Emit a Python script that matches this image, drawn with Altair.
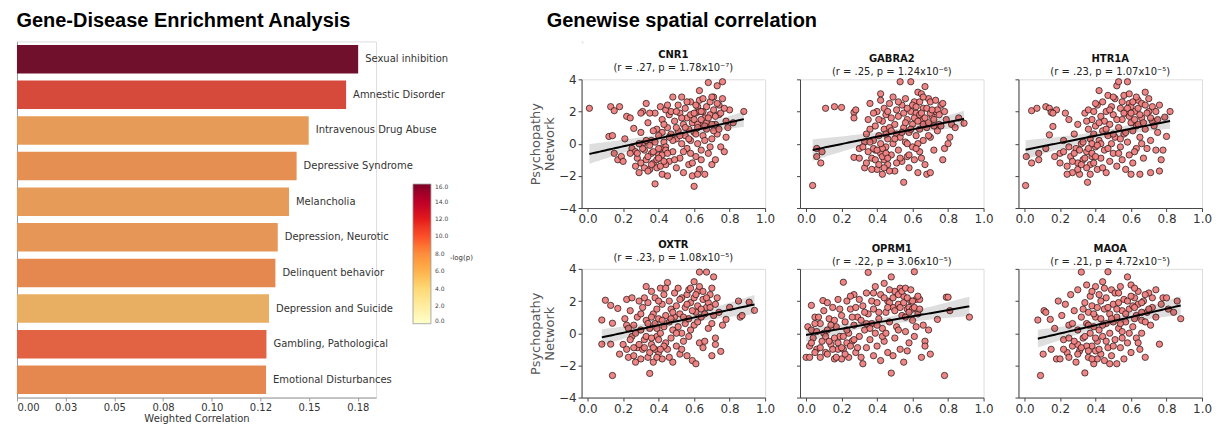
import json
import altair as alt
import numpy as np
import pandas as pd

# ---------------- Left panel data ----------------
DISEASES = ["Sexual inhibition", "Amnestic Disorder", "Intravenous Drug Abuse",
            "Depressive Syndrome", "Melancholia", "Depression, Neurotic",
            "Delinquent behavior", "Depression and Suicide",
            "Gambling, Pathological", "Emotional Disturbances"]
WEIGHTED_CORR = [0.1752, 0.1690, 0.1498, 0.1436, 0.1397, 0.1339, 0.1327, 0.1294, 0.1281, 0.1279]
NEG_LOG_P = [16.0, 11.0, 7.3, 8.1, 7.3, 7.7, 8.4, 6.1, 9.9, 8.4]
X_TICKS = [0, 0.025, 0.05, 0.075, 0.1, 0.125, 0.15, 0.175]
X_TICK_LABELS = ["0.00", "0.03", "0.05", "0.08", "0.10", "0.12", "0.15", "0.18"]
CBAR_TICKS = [0, 2, 4, 6, 8, 10, 12, 14, 16]
CBAR_TITLE = ["-log(p)"]
YLORRD = ["#ffffcc", "#ffeda0", "#fed976", "#feb24c", "#fd8d3c", "#fc4e2a", "#e31a1c", "#bd0026", "#800026"]
YLORRD_DESAT = ["#f9f9d2", "#f3e6ac", "#edd187", "#e8af62", "#e59154", "#e25f44", "#ca3335", "#a51834", "#70102d"]

# ---------------- Right panel data ----------------
GENES = ["CNR1", "GABRA2", "HTR1A", "OXTR", "OPRM1", "MAOA"]
R_TEXT = [".27", ".25", ".23", ".23", ".22", ".21"]
P_TEXT = ["1.78x10⁻⁷", "1.24x10⁻⁶", "1.07x10⁻⁵", "1.08x10⁻⁵", "3.06x10⁻⁵", "4.72x10⁻⁵"]

CNR1 = [(0.01,2.2),(0.13,2.3),(0.15,2.05),(0.18,2.3),(0.12,0.45),(0.14,0.5),(0.15,-0.6),(0.17,-1.0),(0.19,-0.8),(0.21,0.3),
(0.22,1.7),(0.24,1.6),(0.25,-0.3),(0.26,0.95),(0.27,-1.4),(0.28,-0.9),(0.29,-1.8),(0.30,0.7),(0.31,2.0),(0.32,-0.4),
(0.33,2.5),(0.34,1.3),(0.35,-1.6),(0.36,0.2),(0.37,-1.2),(0.38,-2.5),(0.38,1.9),(0.39,0.9),(0.40,-0.7),(0.41,2.3),
(0.42,1.5),(0.42,-1.9),(0.43,0.1),(0.44,2.1),(0.44,-0.2),(0.45,1.0),(0.46,-1.1),(0.46,1.8),(0.47,0.6),(0.48,2.9),
(0.48,-0.5),(0.49,1.4),(0.50,0.3),(0.50,-1.5),(0.51,2.4),(0.51,0.8),(0.52,-0.9),(0.52,1.9),(0.53,0.0),(0.53,2.9),
(0.54,1.2),(0.54,-1.8),(0.55,0.5),(0.55,2.2),(0.56,-0.3),(0.56,1.6),(0.57,0.9),(0.57,-1.3),(0.58,2.6),(0.58,0.2),
(0.59,-2.0),(0.59,1.3),(0.60,-2.65),(0.60,0.7),(0.61,1.9),(0.61,-0.8),(0.62,2.3),(0.62,0.0),(0.63,3.3),(0.63,-1.6),
(0.64,1.1),(0.64,-0.4),(0.65,2.0),(0.65,0.5),(0.66,-1.9),(0.66,1.6),(0.67,0.9),(0.68,3.8),(0.68,-0.6),(0.69,1.8),
(0.70,0.3),(0.70,-1.3),(0.71,2.9),(0.72,1.2),(0.73,3.6),(0.73,0.6),(0.74,1.8),(0.75,-0.2),(0.76,3.85),(0.76,2.8),
(0.77,-0.5),(0.78,0.4),(0.79,1.0),(0.80,2.1),(0.82,1.3),(0.88,2.0),(0.45,-2.0),(0.50,1.0),(0.55,1.0),(0.47,2.0),
(0.58,-0.6),(0.42,0.7),(0.60,1.5),(0.35,1.9),(0.30,1.9),(0.27,-0.5),(0.40,0.5),(0.53,1.6),(0.48,0.2),(0.62,1.2),
(0.36,-0.6),(0.44,-1.3),(0.66,0.2),(0.20,-1.1),(0.24,-0.6),(0.39,-1.5),(0.43,1.2),(0.46,0.4),(0.49,-1.0),(0.52,0.5),
(0.56,2.6),(0.57,0.3),(0.59,-1.2),(0.61,0.6),(0.63,2.0),(0.64,-1.0),(0.67,1.3),(0.69,-0.2),(0.71,0.8),(0.54,-0.5),
(0.41,-0.3),(0.37,0.8),(0.33,-1.0),(0.31,0.0),(0.45,2.4),(0.50,2.0),(0.58,1.8),(0.62,-1.9),(0.72,-1.0),(0.74,2.4),
(0.28,-0.6),(0.30,-1.2),(0.31,-0.3),(0.32,-1.5),(0.33,0.2),(0.34,-0.8),(0.35,-0.1),(0.36,-1.3),(0.37,-0.5),(0.38,0.1),
(0.39,-1.0),(0.40,-0.3),(0.41,-1.4),(0.42,-0.7),(0.43,-1.1),(0.44,-0.4),(0.29,0.0),(0.34,-1.7),(0.40,-0.9),(0.45,-0.6),
(0.60,1.9),(0.61,2.4),(0.62,1.0),(0.63,2.7),(0.64,1.5),(0.65,2.8),(0.66,1.1),(0.67,2.3),(0.68,1.6),(0.69,2.6),
(0.70,1.2),(0.71,2.1),(0.72,1.7),(0.73,2.5),(0.74,0.9),(0.75,1.9),(0.77,2.2),(0.78,1.4),(0.64,2.0),(0.70,2.9)]

GABRA2 = [(0.037,-2.6),(0.06,-0.3),(0.06,-0.8),(0.083,-1.2),(0.09,-0.5),(0.11,2.2),(0.16,2.3),(0.20,2.25),(0.27,1.95),(0.28,2.1),
(0.27,1.6),(0.27,-0.85),(0.30,-0.3),(0.33,-1.5),(0.34,0.6),(0.35,1.5),(0.36,2.5),(0.37,-0.9),(0.38,0.2),(0.39,1.1),
(0.40,-1.6),(0.40,2.0),(0.41,0.5),(0.42,3.1),(0.42,2.7),(0.42,-0.6),(0.43,1.4),(0.43,-1.9),(0.44,0.9),(0.44,2.2),
(0.45,-0.2),(0.45,1.8),(0.46,0.3),(0.46,-1.3),(0.47,2.5),(0.47,1.0),(0.48,-0.7),(0.48,1.6),(0.49,0.0),(0.49,2.9),
(0.50,-1.7),(0.50,1.2),(0.51,0.6),(0.51,2.1),(0.52,-0.4),(0.52,1.7),(0.53,3.85),(0.53,0.4),(0.54,-1.1),(0.54,2.4),
(0.55,-2.4),(0.55,1.0),(0.56,0.1),(0.56,2.8),(0.57,-0.8),(0.57,1.5),(0.58,0.7),(0.58,-1.5),(0.59,3.85),(0.59,2.0),
(0.60,-0.2),(0.60,1.2),(0.61,2.6),(0.61,-1.0),(0.62,0.5),(0.62,1.9),(0.63,-1.8),(0.63,3.2),(0.64,0.9),(0.64,-0.5),
(0.65,3.1),(0.65,1.4),(0.66,0.2),(0.66,2.2),(0.67,3.55),(0.67,-1.3),(0.68,-1.9),(0.68,1.0),(0.69,2.8),(0.70,-1.8),
(0.70,0.4),(0.71,1.7),(0.72,-0.4),(0.73,2.0),(0.74,0.8),(0.75,1.2),(0.76,2.4),(0.77,-1.0),(0.77,2.5),(0.78,-0.3),
(0.79,1.5),(0.80,0.0),(0.81,0.4),(0.82,1.2),(0.84,1.0),(0.86,1.6),(0.89,1.27),(0.44,-1.0),(0.46,2.0),(0.50,0.3),
(0.53,-0.9),(0.55,1.9),(0.57,0.0),(0.59,0.9),(0.61,1.6),(0.63,0.0),(0.52,2.6),(0.48,0.8),(0.58,-0.7),(0.62,-0.3),
(0.39,-0.4),(0.41,1.5),(0.36,0.9),(0.66,1.2),(0.69,0.5),(0.72,1.1),(0.47,-1.7),(0.54,0.7),(0.60,2.4),(0.64,1.8),
(0.51,-1.2),(0.56,1.3),(0.45,0.6),(0.43,-0.3),(0.65,-0.9),(0.70,1.9),(0.74,2.1),(0.38,1.9),(0.33,0.1),(0.57,2.2),
(0.30,-0.9),(0.32,-0.2),(0.34,-1.2),(0.35,-0.5),(0.37,-1.6),(0.38,-0.3),(0.39,-1.0),(0.40,-0.4),(0.41,-1.3),(0.42,0.0),
(0.43,-0.8),(0.44,-1.5),(0.45,-0.6),(0.46,-0.9),(0.36,0.1),
(0.62,2.3),(0.63,1.4),(0.64,2.6),(0.65,1.9),(0.66,2.9),(0.67,1.6),(0.68,2.2),(0.69,1.3),(0.70,2.6),(0.71,2.1),
(0.72,1.5),(0.73,2.7),(0.75,1.8),(0.76,1.1),(0.78,2.0)]

HTR1A = [(0.006,-2.6),(0.01,-0.8),(0.04,-1.2),(0.04,2.05),(0.07,2.2),(0.08,-0.6),(0.08,-1.0),(0.12,2.3),(0.14,2.2),(0.15,1.95),
(0.18,2.1),(0.16,1.9),(0.16,1.07),(0.14,0.55),(0.12,-0.3),(0.17,-0.8),(0.20,-0.6),(0.22,0.2),(0.24,-1.4),(0.25,1.5),
(0.27,-1.8),(0.28,0.6),(0.29,-0.3),(0.30,1.2),(0.31,-1.9),(0.32,0.0),(0.33,-1.0),(0.34,1.9),(0.35,-0.5),(0.355,-2.4),
(0.36,0.9),(0.36,2.1),(0.37,-1.3),(0.37,0.3),(0.38,1.5),(0.38,-0.8),(0.39,2.0),(0.39,0.6),(0.40,-0.2),(0.40,1.1),
(0.41,-1.6),(0.41,2.4),(0.42,3.3),(0.42,0.2),(0.43,1.7),(0.43,-0.9),(0.44,0.8),(0.44,2.6),(0.45,-0.4),(0.45,1.4),
(0.46,-1.8),(0.46,2.0),(0.47,0.5),(0.47,3.0),(0.48,-1.1),(0.48,1.2),(0.49,2.3),(0.49,0.0),(0.50,-0.6),(0.50,1.8),
(0.51,2.8),(0.51,0.4),(0.52,3.6),(0.52,-1.4),(0.53,3.85),(0.53,1.0),(0.54,-0.2),(0.54,2.2),(0.55,1.5),(0.55,-1.0),
(0.56,0.6),(0.56,3.0),(0.57,-1.6),(0.57,1.9),(0.58,3.85),(0.58,0.1),(0.59,2.5),(0.59,-0.7),(0.60,1.3),(0.60,-1.9),
(0.61,0.8),(0.62,2.0),(0.63,-0.3),(0.63,1.1),(0.64,2.7),(0.65,-1.9),(0.65,0.4),(0.66,1.6),(0.67,-0.9),(0.68,3.2),
(0.68,0.9),(0.70,2.0),(0.71,-1.8),(0.71,0.2),(0.72,1.4),(0.74,-0.4),(0.75,0.7),(0.76,-1.7),(0.77,-1.0),(0.78,-0.4),
(0.79,1.65),(0.80,0.45),(0.82,2.0),(0.44,-1.5),(0.47,-0.3),(0.50,0.6),(0.53,-0.6),(0.56,1.9),(0.61,-1.2),(0.40,2.5),
(0.42,1.3),(0.48,2.1),(0.52,1.5),(0.57,0.7),(0.62,-0.5),(0.66,0.0),(0.38,0.0),(0.35,1.4),(0.46,0.9),(0.54,0.3),
(0.59,1.7),(0.64,1.2),(0.69,-0.3),(0.43,0.0),(0.50,2.9),(0.55,2.6),(0.60,2.3),(0.23,1.9),(0.26,-0.8),(0.30,-1.2),
(0.20,-1.2),(0.22,-0.5),(0.24,-1.9),(0.25,-0.2),(0.27,-1.1),(0.28,-0.6),(0.30,-1.6),(0.31,-0.4),(0.32,-1.3),(0.33,0.1),
(0.34,-0.9),(0.35,-1.5),(0.36,-0.3),(0.37,-1.9),(0.38,-0.6),(0.39,-1.2),(0.40,-0.8),(0.41,-0.1),
(0.58,2.2),(0.59,3.1),(0.60,1.9),(0.61,2.6),(0.62,1.5),(0.63,2.9),(0.64,2.2),(0.65,1.8),(0.66,2.5),(0.67,1.3),
(0.68,2.4),(0.69,1.9),(0.70,2.8),(0.71,1.6),(0.72,2.3),(0.73,1.1),(0.74,2.0),(0.75,1.5),(0.76,2.4)]

OXTR = [(0.08,0.82),(0.08,-0.68),(0.10,2.05),(0.13,1.73),(0.13,-0.68),(0.14,-2.63),(0.14,0.62),(0.17,1.54),(0.18,-1.3),(0.20,-0.7),
(0.21,0.9),(0.22,2.1),(0.23,-1.5),(0.24,1.4),(0.25,-0.2),(0.25,2.2),(0.26,0.5),(0.27,-1.8),(0.28,1.0),(0.28,-0.9),
(0.29,2.0),(0.30,0.2),(0.31,-1.0),(0.31,1.6),(0.32,-0.4),(0.33,2.9),(0.33,0.8),(0.34,-1.5),(0.34,1.9),(0.35,-2.5),
(0.35,0.3),(0.36,2.6),(0.36,-0.7),(0.37,1.2),(0.37,-1.8),(0.38,0.6),(0.38,2.2),(0.39,-0.2),(0.39,1.5),(0.40,-1.2),
(0.40,0.9),(0.41,2.8),(0.41,0.0),(0.42,1.8),(0.42,-1.6),(0.43,0.4),(0.43,2.4),(0.44,-0.6),(0.44,1.1),(0.45,3.15),
(0.45,-1.0),(0.46,0.7),(0.46,2.0),(0.47,-0.3),(0.47,1.5),(0.48,-1.8),(0.48,0.2),(0.49,2.5),(0.49,1.0),(0.50,-0.8),
(0.50,1.7),(0.51,0.4),(0.51,2.8),(0.52,-1.3),(0.52,1.2),(0.53,0.0),(0.53,2.2),(0.54,-0.5),(0.55,1.6),(0.55,0.6),
(0.56,-1.4),(0.56,2.4),(0.57,0.9),(0.57,-0.2),(0.58,1.9),(0.59,-1.7),(0.60,3.2),(0.60,0.5),(0.61,-1.9),(0.61,1.3),
(0.62,2.6),(0.63,3.8),(0.63,-0.6),(0.64,1.0),(0.65,2.1),(0.66,-0.5),(0.67,3.8),(0.67,1.6),(0.68,0.3),(0.69,2.4),
(0.70,-1.4),(0.71,3.5),(0.71,1.1),(0.72,-0.7),(0.72,-0.3),(0.73,2.2),(0.75,-1.13),(0.76,0.5),(0.78,0.86),(0.80,1.6),
(0.85,2.0),(0.86,1.0),(0.87,1.1),(0.91,1.93),(0.94,1.42),(0.30,1.2),(0.32,2.2),(0.36,1.0),(0.38,-1.0),(0.40,2.0),
(0.42,0.8),(0.44,2.8),(0.46,-1.5),(0.48,1.3),(0.50,0.0),(0.52,2.1),(0.54,1.0),(0.58,0.2),(0.62,0.7),(0.65,-0.9),
(0.39,0.3),(0.43,-0.8),(0.47,0.9),(0.53,-1.0),(0.57,2.7),(0.68,1.9),(0.70,0.6),(0.26,-0.9),(0.22,0.5),(0.34,0.6),
(0.22,-1.0),(0.24,-0.4),(0.26,-1.4),(0.27,0.0),(0.29,-0.7),(0.30,-1.6),(0.32,-0.9),(0.33,-0.2),(0.35,-1.2),(0.36,-0.3),
(0.37,-0.9),(0.39,-1.5),(0.40,-0.4),(0.41,-1.0),(0.23,0.3),
(0.56,1.8),(0.58,2.8),(0.59,1.4),(0.60,2.2),(0.62,1.7),(0.63,2.9),(0.64,1.5),(0.65,2.6),(0.66,1.2),(0.67,2.2),
(0.69,1.6),(0.70,2.8),(0.72,1.8),(0.74,1.3),(0.61,2.4)]

OPRM1 = [(0.00,-1.5),(0.02,-1.5),(0.02,-0.8),(0.03,1.73),(0.095,2.03),(0.05,1.0),(0.07,1.0),(0.01,0.4),(0.03,0.2),(0.04,-0.3),
(0.06,-1.0),(0.08,0.6),(0.09,-0.5),(0.10,1.4),(0.11,-1.2),(0.12,0.2),(0.13,0.9),(0.14,-0.7),(0.15,1.6),(0.16,-1.6),
(0.17,0.4),(0.18,2.1),(0.19,-0.2),(0.20,1.1),(0.21,3.17),(0.21,-1.0),(0.22,0.7),(0.23,2.0),(0.24,-1.5),(0.24,0.0),
(0.25,1.5),(0.26,-0.5),(0.27,2.4),(0.27,0.5),(0.28,-1.2),(0.29,1.0),(0.30,2.1),(0.30,-0.2),(0.31,0.8),(0.32,-1.9),
(0.32,1.7),(0.33,0.2),(0.34,2.5),(0.34,-0.9),(0.35,3.78),(0.35,1.2),(0.36,-0.4),(0.37,2.0),(0.37,0.6),(0.38,-1.4),
(0.38,1.5),(0.39,2.9),(0.39,0.0),(0.40,-0.8),(0.40,1.9),(0.41,0.9),(0.42,-1.7),(0.42,2.4),(0.43,0.3),(0.44,3.1),
(0.44,-0.5),(0.45,1.3),(0.46,2.0),(0.46,-1.2),(0.47,0.7),(0.48,3.5),(0.48,-2.48),(0.49,1.6),(0.50,-0.3),(0.50,2.6),
(0.51,0.4),(0.52,1.8),(0.53,-1.0),(0.54,1.1),(0.55,-1.8),(0.55,2.3),(0.56,0.1),(0.57,1.5),(0.58,-0.6),(0.59,2.0),
(0.60,0.8),(0.61,3.82),(0.61,-0.2),(0.62,2.1),(0.63,1.2),(0.64,2.1),(0.65,-1.5),(0.66,0.5),(0.67,-0.5),(0.67,-0.8),
(0.69,0.2),(0.70,-1.3),(0.74,0.86),(0.78,-2.63),(0.79,2.24),(0.80,2.24),(0.81,1.4),(0.92,1.0),(0.08,-1.5),(0.12,1.9),
(0.16,0.8),(0.19,1.5),(0.23,-0.6),(0.26,1.0),(0.29,-0.9),(0.33,1.3),(0.36,0.3),(0.41,1.3),(0.43,-0.2),(0.47,1.9),
(0.52,0.2),(0.56,1.0),(0.58,1.6),(0.45,0.0),(0.40,0.5),(0.34,0.6),(0.28,1.6),(0.18,-1.0),(0.14,0.5),(0.10,0.0),
(0.49,-1.4),(0.53,2.8),(0.57,-1.1),(0.62,0.4),(0.38,2.5),(0.31,-1.5),(0.25,2.3),(0.05,0.6),(0.20,-1.6),(0.60,1.5),
(0.03,-0.6),(0.05,-1.2),(0.06,0.1),(0.08,-0.9),(0.11,-0.2),(0.12,-1.3),(0.13,-0.5),(0.15,-1.0),(0.16,-0.3),
(0.17,-1.5),(0.18,-0.6),(0.20,-0.9),(0.21,-0.2),(0.22,-1.3),(0.23,0.2),(0.25,-0.8),(0.27,-0.4),
(0.44,2.2),(0.46,1.6),(0.47,2.7),(0.49,2.2),(0.50,1.4),(0.52,2.4),(0.53,1.6),(0.54,2.6),(0.55,1.9),
(0.56,2.8),(0.57,2.2),(0.58,1.3),(0.59,2.7),(0.60,2.0),(0.61,1.6),(0.63,2.3),(0.64,1.5)]

MAOA = [(0.09,-2.63),(0.075,0.82),(0.11,1.4),(0.12,1.3),(0.105,-1.3),(0.145,0.86),(0.15,-1.0),(0.18,-1.6),(0.20,-1.6),(0.17,0.3),
(0.19,2.0),(0.21,1.1),(0.22,-0.4),(0.23,1.8),(0.24,-1.2),(0.25,0.5),(0.26,2.4),(0.27,-0.8),(0.28,1.4),(0.29,-1.8),
(0.30,0.2),(0.30,2.7),(0.31,-1.1),(0.32,3.8),(0.32,1.0),(0.33,-0.3),(0.34,-2.47),(0.34,1.9),(0.35,0.6),(0.35,3.0),
(0.36,-1.5),(0.36,1.3),(0.37,0.0),(0.37,2.3),(0.38,-0.8),(0.38,1.7),(0.39,0.4),(0.39,-1.9),(0.40,2.9),(0.40,1.0),
(0.41,-0.5),(0.41,1.6),(0.42,0.2),(0.42,2.4),(0.43,-1.3),(0.43,0.9),(0.44,3.2),(0.44,-0.2),(0.45,1.5),(0.45,-1.7),
(0.46,0.6),(0.46,2.2),(0.47,3.82),(0.47,-0.9),(0.48,1.2),(0.48,0.0),(0.49,2.7),(0.49,-1.4),(0.50,0.7),(0.50,1.8),
(0.51,-0.4),(0.51,2.5),(0.52,1.0),(0.52,-1.9),(0.53,0.3),(0.53,1.9),(0.54,-0.9),(0.54,2.9),(0.55,1.4),(0.55,0.1),
(0.56,-1.6),(0.56,2.1),(0.57,0.7),(0.58,3.5),(0.58,-0.6),(0.59,1.5),(0.60,3.0),(0.60,-1.2),(0.61,0.4),(0.62,2.2),
(0.63,-0.3),(0.63,1.1),(0.64,1.8),(0.65,-1.0),(0.66,0.8),(0.67,2.0),(0.68,-1.5),(0.69,1.3),(0.70,2.5),(0.71,0.5),
(0.72,1.6),(0.74,1.0),(0.76,-0.68),(0.77,1.8),(0.78,2.2),(0.80,2.2),(0.81,1.5),(0.84,1.3),(0.86,2.0),(0.88,0.9),
(0.30,-0.7),(0.33,1.5),(0.36,0.5),(0.38,2.6),(0.41,-1.6),(0.44,0.5),(0.47,1.6),(0.50,-0.8),(0.53,2.5),(0.55,-0.3),
(0.57,1.2),(0.59,0.0),(0.62,0.9),(0.64,-0.6),(0.43,2.0),(0.46,-0.5),(0.49,0.9),(0.52,1.5),(0.39,1.2),(0.35,-0.8),
(0.27,0.6),(0.25,-0.3),(0.58,2.0),(0.61,1.7),(0.66,0.0),(0.68,0.7),(0.45,2.8),(0.40,-1.1),(0.48,-1.9),(0.54,0.6),
(0.22,-1.0),(0.25,-1.5),(0.28,-0.5),(0.30,-1.3),(0.32,-0.9),(0.34,-0.2),(0.36,-1.1),(0.38,-1.6),(0.40,-0.3),(0.42,-1.0),
(0.60,2.3),(0.62,1.6),(0.64,2.6),(0.66,1.9),(0.68,2.4),(0.70,1.5),(0.72,2.2),(0.74,2.7),(0.62,2.8),(0.66,1.3)]

GENE_POINTS = [CNR1, GABRA2, HTR1A, OXTR, OPRM1, MAOA]
SC_X_TICKS = [0, 0.2, 0.4, 0.6, 0.8, 1.0]
SC_Y_TICKS = [-4, -2, 0, 2, 4]

TITLE_FONT = "Liberation Sans"
FONT = "DejaVu Sans"

# ---------------- Left: enrichment bar chart ----------------
bar_df = pd.DataFrame({"disease": DISEASES, "corr": WEIGHTED_CORR, "nlogp": NEG_LOG_P})
label_expr = json.dumps(X_TICK_LABELS).replace('"', "'") + "[round(datum.value*40)]"

x_bar = alt.X("corr:Q",
              scale=alt.Scale(domain=[0, 0.1844], nice=False, zero=False),
              axis=alt.Axis(values=X_TICKS, labelExpr=label_expr, title="Weighted Correlation",
                            grid=False, labelFont=FONT, labelFontSize=10, labelColor="#333",
                            titleFont=FONT, titleFontSize=10, titleFontWeight="normal",
                            titleColor="#333", domainColor="#999", tickColor="#999",
                            tickSize=3.5, titlePadding=2, labelPadding=1))
y_bar = alt.Y("disease:N", sort=DISEASES,
              scale=alt.Scale(paddingInner=0.2, paddingOuter=0.1),
              axis=alt.Axis(labels=False, ticks=False, title=None, domainColor="#999"))

bars = alt.Chart(bar_df).mark_bar().encode(
    x=x_bar, y=y_bar,
    color=alt.Color("nlogp:Q", scale=alt.Scale(domain=CBAR_TICKS, range=YLORRD_DESAT), legend=None),
)
bar_text = alt.Chart(bar_df).mark_text(align="left", baseline="middle", dx=7, font=FONT,
                                       fontSize=10, color="#333").encode(
    x="corr:Q", y=alt.Y("disease:N", sort=DISEASES), text="disease:N")
legend_layer = alt.Chart(bar_df).mark_bar(fillOpacity=0, strokeOpacity=0).encode(
    x="corr:Q", y=alt.Y("disease:N", sort=DISEASES),
    color=alt.Color("nlogp:Q", scale=alt.Scale(domain=CBAR_TICKS, range=YLORRD),
                    legend=alt.Legend(title=None, orient="none", legendX=397, legendY=143,
                                      direction="vertical", gradientLength=140,
                                      gradientThickness=18, values=CBAR_TICKS, format=".1f",
                                      labelFont=FONT, labelFontSize=6, labelColor="#444",
                                      labelOffset=4, padding=0,
                                      gradientStrokeColor="#999", gradientStrokeWidth=0.8)),
)
cbar_title = alt.Chart(pd.DataFrame({"t": CBAR_TITLE})).mark_text(
    align="left", baseline="middle", font=FONT, fontSize=7, color="#333").encode(
    text="t:N", x=alt.value(434), y=alt.value(217))

left = alt.layer(bars, bar_text, legend_layer, cbar_title).resolve_scale(color="independent").properties(
    width=360, height=357,
    title=alt.TitleParams("Gene-Disease Enrichment Analysis", anchor="start", font=TITLE_FONT,
                          fontSize=20, fontWeight="bold", color="black", offset=10),
)

# ---------------- Right: scatter panels ----------------
def fit_frames(pts):
    x = np.array([p[0] for p in pts])
    y = np.array([p[1] for p in pts])
    n = len(x)
    b, a = np.polyfit(x, y, 1)
    xs = np.linspace(x.min(), x.max(), 60)
    yhat = a + b * xs
    resid = y - (a + b * x)
    s = np.sqrt(np.sum(resid ** 2) / (n - 2))
    sxx = np.sum((x - x.mean()) ** 2)
    se = s * np.sqrt(1.0 / n + (xs - x.mean()) ** 2 / sxx)
    fit_df = pd.DataFrame({"x": xs, "fit": yhat, "lo": yhat - 1.97 * se, "hi": yhat + 1.97 * se})
    return pd.DataFrame({"x": x, "y": y}), fit_df


def panel(i):
    gene = GENES[i]
    pts_df, fit_df = fit_frames(GENE_POINTS[i])
    left_col = (i % 3 == 0)
    xs = alt.Scale(domain=[-0.034, 1.0], nice=False, zero=False)
    ys = alt.Scale(domain=[-4, 4], nice=False)
    xax = alt.Axis(values=SC_X_TICKS, format=".1f", grid=False, title=None, labelFont=FONT,
                   labelFontSize=12, labelColor="#333", tickColor="#444", domainColor="#444",
                   tickSize=3.5, labelPadding=2, labelOverlap=False, labelFlush=False)
    yax = alt.Axis(values=SC_Y_TICKS, format="d", grid=False,
                   title=["Psychopathy", "Network"] if left_col else None,
                   labels=left_col, labelFont=FONT, labelFontSize=12, labelColor="#333",
                   tickColor="#444", domainColor="#444", tickSize=3.5, labelPadding=2,
                   labelOverlap=False, labelFlush=False, titleFont=FONT, titleFontSize=13,
                   titleFontWeight="normal", titleColor="#555", titlePadding=2,
                   titleLineHeight=14)
    scatter = alt.Chart(pts_df).mark_circle(size=40, fill="#f07f7f", stroke="#2a1515",
                                            strokeWidth=0.8, opacity=0.95).encode(
        x=alt.X("x:Q", scale=xs, axis=xax), y=alt.Y("y:Q", scale=ys, axis=yax))
    band = alt.Chart(fit_df).mark_area(color="black", opacity=0.13).encode(
        x=alt.X("x:Q", scale=xs, axis=xax), y=alt.Y("lo:Q", scale=ys, axis=yax), y2="hi:Q")
    line = alt.Chart(fit_df).mark_line(color="black", strokeWidth=2).encode(
        x=alt.X("x:Q", scale=xs, axis=xax), y=alt.Y("fit:Q", scale=ys, axis=yax))
    return alt.layer(scatter, band, line).properties(
        width=184, height=129,
        title=alt.TitleParams(gene, subtitle=f"(r = {R_TEXT[i]}, p = {P_TEXT[i]})",
                              anchor="middle", frame="group", font=FONT, fontSize=10,
                              fontWeight="bold", color="#111", subtitleFont=FONT,
                              subtitleFontSize=10, subtitleColor="#222", subtitlePadding=3,
                              offset=0),
    )


grid = alt.concat(*[panel(i) for i in range(6)], columns=3,
                  spacing={"row": 61, "column": 35}, bounds="flush")

header = alt.Chart(pd.DataFrame({"t": [""]})).mark_text(baseline="top", fontSize=1).encode(
    text="t:N", x=alt.value(0), y=alt.value(0)).properties(
    width=1, height=1,
    title=alt.TitleParams("Genewise spatial correlation", anchor="start", font=TITLE_FONT,
                          fontSize=20, fontWeight="bold", color="black", dx=-35, offset=10),
)

right = alt.vconcat(header, grid, spacing=6)

chart = alt.hconcat(left, right, spacing=55).properties(
    padding={"left": 8, "top": 2, "right": 0, "bottom": 0}
).configure_view(stroke=None).configure_axis(labelOverlap=False).configure(background="white")

chart.save("out.html", embed_options={"renderer": "svg", "actions": False})
